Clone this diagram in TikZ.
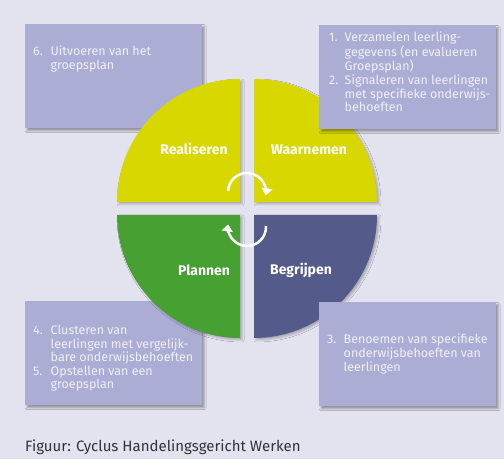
\documentclass[tikz,border=0pt]{standalone}
\usepackage{fontspec}
\setmainfont{Fira Sans}
\usetikzlibrary{arrows.meta,shadows.blur}
\definecolor{achtergrond}{RGB}{227,227,240}
\definecolor{kader}{RGB}{171,173,212}
\definecolor{kadertekst}{RGB}{240,240,248}
\definecolor{geel}{RGB}{216,216,0}
\definecolor{groen}{RGB}{70,160,50}
\definecolor{blauw}{RGB}{84,90,138}
\definecolor{onderschrift}{RGB}{50,50,55}

\begin{document}
\begin{tikzpicture}[x=1pt,y=1pt]
    \tikzset{
        kaderbox/.style={
            fill=kader,
            minimum width=177pt,
            minimum height=104pt,
            anchor=north west,
            inner sep=0pt,
            blur shadow={shadow xshift=2pt,shadow yshift=-2.5pt,shadow blur radius=2pt,shadow opacity=35}
        },
        kadertxt/.style={
            anchor=north west,
            inner sep=0pt,
            text=kadertekst,
            font=\fontsize{12.5}{13.2}\selectfont
        },
        kwadrant/.style={
            fill=#1,
            blur shadow={shadow xshift=2pt,shadow yshift=-2pt,shadow blur radius=2pt,shadow opacity=25}
        },
        fase/.style={
            text=white,
            font=\fontsize{14}{16}\selectfont\bfseries
        },
        pijl/.style={
            draw=white,
            line width=2.5pt,
            -{Triangle[width=11pt,length=7pt]}
        }
    }

    \fill[achtergrond] (0,0) rectangle (504,459);
    \useasboundingbox (0,0) rectangle (504,459);

    \coordinate (m) at (247,250.5);
    \coordinate (rl) at ([xshift=-7pt,yshift=6.5pt] m);
    \coordinate (wn) at ([xshift=7pt,yshift=6.5pt] m);
    \coordinate (pl) at ([xshift=-7pt,yshift=-6.5pt] m);
    \coordinate (bg) at ([xshift=7pt,yshift=-6.5pt] m);

    \node[kaderbox] (b6) at (25,435) {};
    \node[kaderbox] (b45) at (25,158) {};

    \fill[kwadrant=geel] (rl) -- ++(0,123) arc[start angle=90,end angle=180,radius=123] -- cycle;
    \fill[kwadrant=geel] (wn) -- ++(123,0) arc[start angle=0,end angle=90,radius=123] -- cycle;
    \fill[kwadrant=groen] (pl) -- ++(-123,0) arc[start angle=180,end angle=270,radius=123] -- cycle;
    \fill[kwadrant=blauw] (bg) -- ++(0,-123) arc[start angle=270,end angle=360,radius=123] -- cycle;

    \node[kaderbox] (b12) at (319,434) {};
    \node[kaderbox] (b3) at (319,157) {};

    \node[kadertxt] (t6) at ([xshift=8pt,yshift=-22pt] b6.north west) {%
        \begin{tabular}{@{}p{17.5pt}@{}l@{}}
            6. & Uitvoeren van het\\
               & groepsplan
        \end{tabular}};
    \node[kadertxt] (t12) at ([xshift=10pt,yshift=-7pt] b12.north west) {%
        \begin{tabular}{@{}p{15.5pt}@{}l@{}}
            1. & Verzamelen leerling-\\
               & gegevens (en evalueren\\
               & Groepsplan)\\
            2. & Signaleren van leerlingen\\
               & met specifieke onderwijs-\\
               & behoeften
        \end{tabular}};
    \node[kadertxt] (t45) at ([xshift=8pt,yshift=-24pt] b45.north west) {%
        \begin{tabular}{@{}p{17.5pt}@{}l@{}}
            4. & Clusteren van\\
               & leerlingen met vergelijk-\\
               & bare onderwijsbehoeften\\
            5. & Opstellen van een\\
               & groepsplan
        \end{tabular}};
    \node[kadertxt] (t3) at ([xshift=8pt,yshift=-32pt] b3.north west) {%
        \begin{tabular}{@{}p{16.5pt}@{}l@{}}
            3. & Benoemen van specifieke\\
               & onderwijsbehoeften van\\
               & leerlingen
        \end{tabular}};

    \node[fase] (real) at (194,310) {Realiseren};
    \node[fase] (waar) at (309,309) {Waarnemen};
    \node[fase] (plan) at (204,189) {Plannen};
    \node[fase] (begr) at (301,189) {Begrijpen};

    \coordinate (p1) at ([shift={(177:19)}] 247,267);
    \coordinate (p2) at ([shift={(3:19)}] 247,232);
    \draw[pijl] (p1) arc[start angle=177,end angle=-10,radius=19];
    \draw[pijl] (p2) arc[start angle=3,end angle=-188,radius=19];

    \node[anchor=base west,inner sep=0pt,text=onderschrift,font=\fontsize{15}{17}\selectfont] (fig) at (25,8) {Figuur: Cyclus Handelingsgericht Werken};
\end{tikzpicture}
\end{document}
